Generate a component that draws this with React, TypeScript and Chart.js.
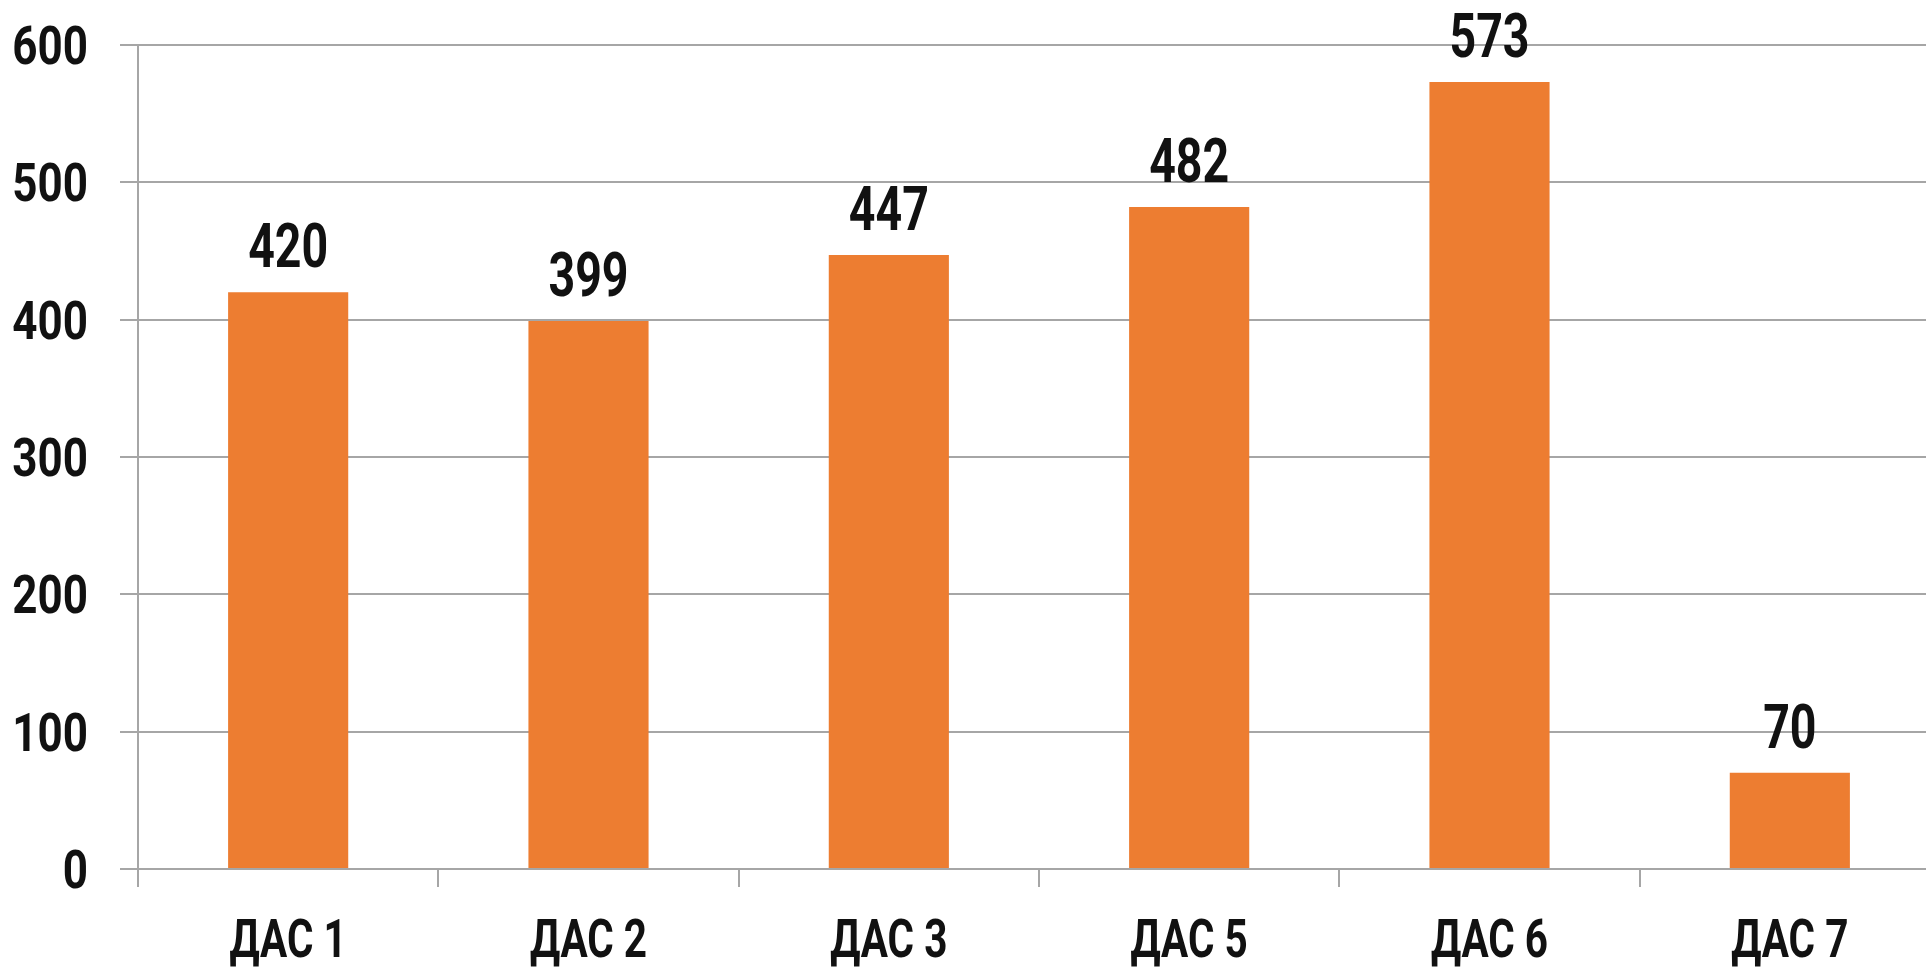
import React, { useEffect, useRef } from "react";
import { Chart, registerables } from "chart.js";

Chart.register(...registerables);

const categories = ["ДАС 1", "ДАС 2", "ДАС 3", "ДАС 5", "ДАС 6", "ДАС 7"];
const values = [420, 399, 447, 482, 573, 70];
const yTicks = [0, 100, 200, 300, 400, 500, 600];

const FONT = "Roboto, 'DejaVu Sans Condensed', sans-serif";
const BAR = "#ED7D31";
const GRID = "#a6a6a6";
const TEXT = "#111111";

function drawScaled(ctx: CanvasRenderingContext2D, text: string, x: number, y: number, sx: number) {
  ctx.save();
  ctx.translate(x, y);
  ctx.scale(sx, 1);
  ctx.fillText(text, 0, 0);
  ctx.restore();
}

const textPlugin = {
  id: "textPlugin",
  afterDraw(chart: any) {
    const ctx: CanvasRenderingContext2D = chart.ctx;
    const xs = chart.scales.x;
    const ys = chart.scales.y;
    ctx.save();
    ctx.fillStyle = TEXT;
    ctx.textBaseline = "alphabetic";

    // y tick labels
    ctx.font = `bold 53px ${FONT}`;
    ctx.textAlign = "right";
    yTicks.forEach((v) => {
      const y = ys.getPixelForValue(v);
      drawScaled(ctx, String(v), 88, y + 19, 0.83);
    });

    // x category labels
    ctx.font = `bold 54px ${FONT}`;
    ctx.textAlign = "center";
    categories.forEach((c, i) => {
      const x = xs.getPixelForValue(i);
      drawScaled(ctx, c, x, 957, 0.75);
    });

    // value labels
    ctx.font = `bold 62px ${FONT}`;
    ctx.textAlign = "center";
    const meta = chart.getDatasetMeta(0);
    meta.data.forEach((el: any, i: number) => {
      drawScaled(ctx, String(values[i]), el.x, el.y - 25, 0.75);
    });
    ctx.restore();
  },
};

export default function App() {
  const ref = useRef<HTMLCanvasElement>(null);
  useEffect(() => {
    if (!ref.current) return;
    const chart = new Chart(ref.current, {
      type: "bar",
      data: {
        labels: categories,
        datasets: [
          {
            data: values,
            backgroundColor: BAR,
            categoryPercentage: 1,
            barPercentage: 0.4,
          },
        ],
      },
      options: {
        responsive: false,
        animation: false,
        devicePixelRatio: 1,
        layout: { padding: { top: 45, right: 0, left: 0, bottom: 0 } },
        plugins: { legend: { display: false }, tooltip: { enabled: false } },
        scales: {
          x: {
            grid: {
              offset: true,
              drawOnChartArea: false,
              drawTicks: true,
              tickLength: 18,
              color: GRID,
              lineWidth: 2,
            },
            border: { display: true, color: GRID, width: 2 },
            ticks: { display: false },
            afterFit(scale: any) {
              scale.height = 98;
              scale.paddingLeft = 0;
              scale.paddingRight = 0;
            },
          },
          y: {
            min: 0,
            max: 600,
            afterBuildTicks(scale: any) {
              scale.ticks = yTicks.map((v) => ({ value: v }));
            },
            grid: {
              color: GRID,
              lineWidth: 2,
              drawTicks: true,
              tickLength: 18,
            },
            border: { display: true, color: GRID, width: 2 },
            ticks: { display: false },
            afterFit(scale: any) {
              scale.width = 138;
              scale.paddingTop = 0;
              scale.paddingBottom = 0;
            },
          },
        },
      },
      plugins: [textPlugin],
    });
    return () => chart.destroy();
  }, []);
  return (
    <div
      style={{
        position: "fixed",
        left: 0,
        top: 0,
        width: 1926,
        height: 967,
        overflow: "hidden",
        background: "#fff",
      }}
    >
      <canvas ref={ref} width={1940} height={967} style={{ display: "block" }} />
    </div>
  );
}
